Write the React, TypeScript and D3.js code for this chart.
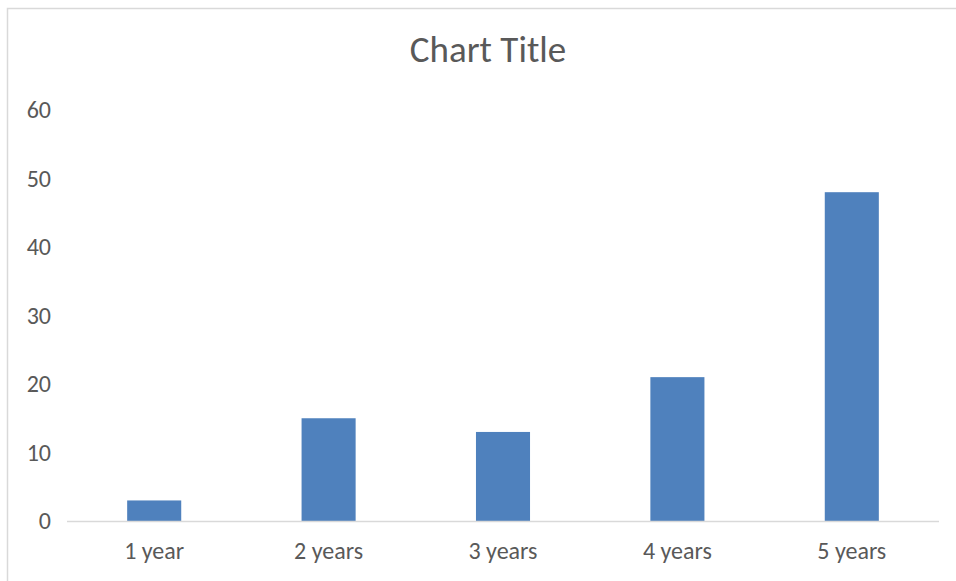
import React from "react";
import * as d3 from "d3";

const categories = ["1 year", "2 years", "3 years", "4 years", "5 years"];
const values = [3, 15, 13, 21, 48];
const yTicks = [0, 10, 20, 30, 40, 50, 60];
const title = "Chart Title";

export default function App() {
  const W = 956, H = 581;
  const left = 67, right = 939, top = 110, bottom = 521;
  const x = d3.scaleBand<string>().domain(categories).range([left, right]).paddingInner(0.69).paddingOuter(0.345);
  const y = d3.scaleLinear().domain([0, 60]).range([bottom, top]);
  const font = "Calibri, Carlito, 'Open Sans', sans-serif";
  const textColor = "#595959";
  return (
    <svg width={W} height={H} style={{ position: "absolute", left: 0, top: 0, background: "#fff" }}>
      <rect x={7.5} y={8.5} width={W} height={H} fill="#fff" stroke="#d9d9d9" strokeWidth={1.5} />
      <text x={488} y={62} textAnchor="middle" fontFamily={font} fontSize={37} fill={textColor}>{title}</text>
      {yTicks.map((t) => (
        <text key={t} x={51} y={y(t)} dy="0.35em" textAnchor="end" fontFamily={font} fontSize={24} fill={textColor}>{t}</text>
      ))}
      {categories.map((c, i) => (
        <rect key={c} x={x(c)} y={y(values[i])} width={x.bandwidth()} height={y(0) - y(values[i])} fill="#4f81bd" />
      ))}
      <line x1={left} x2={right} y1={bottom + 0.5} y2={bottom + 0.5} stroke="#d9d9d9" strokeWidth={1.5} />
      {categories.map((c) => (
        <text key={c} x={(x(c) as number) + x.bandwidth() / 2} y={559} textAnchor="middle" fontFamily={font} fontSize={24} fill={textColor}>{c}</text>
      ))}
    </svg>
  );
}
